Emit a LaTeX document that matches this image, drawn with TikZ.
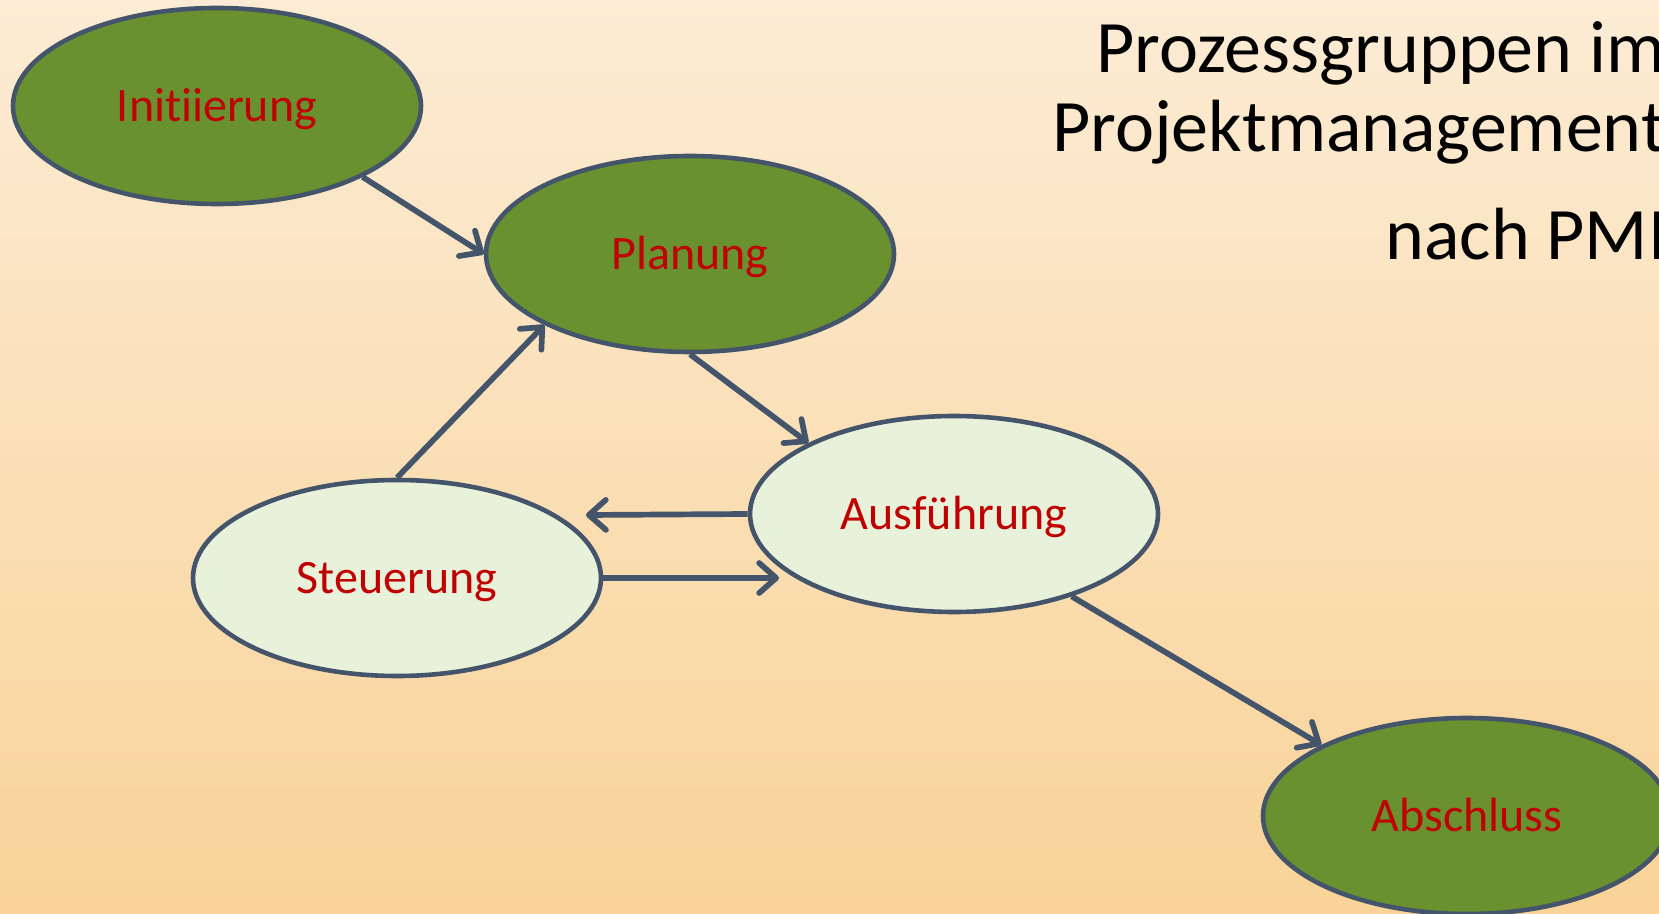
\documentclass[tikz,border=0pt]{standalone}
\usepackage{fontspec}
\setmainfont{Carlito}[Ligatures=NoCommon]
\usetikzlibrary{shapes.geometric,arrows.meta}
\definecolor{bgtop}{RGB}{252,236,213}
\definecolor{bgbot}{RGB}{249,211,152}
\definecolor{ellgreen}{RGB}{106,145,48}
\definecolor{elllight}{RGB}{232,242,219}
\definecolor{edge}{RGB}{68,84,106}
\definecolor{labred}{RGB}{192,0,0}
\newcommand{\lbl}[1]{\raisebox{-7.8pt}[0pt][0pt]{#1}}
\tikzset{
  procell/.style={ellipse, draw=edge, line width=2.3pt, minimum width=204pt, minimum height=98pt, inner sep=0pt, text=labred, font=\fontsize{24}{28}\selectfont},
  greenell/.style={procell, fill=ellgreen},
  lightell/.style={procell, fill=elllight},
  flow/.style={draw=edge, line width=2.85pt, -{Straight Barb[length=8.5pt,width=15pt,round]}},
  titletext/.style={anchor=base west, inner sep=0pt, font=\fontsize{37}{42}\selectfont, text=black}
}
\begin{document}
\begin{tikzpicture}[x=0.5pt,y=-0.5pt]
\fill[top color=bgtop,bottom color=bgbot] (0,0) rectangle (1659,914);
\useasboundingbox (0,0) rectangle (1659,914);
\clip (0,0) rectangle (1659,914);

\node[titletext] (t1) at (1096,73) {Prozessgruppen im};
\node[titletext] (t2) at (1052,152) {Projektmanagement};
\node[titletext] (t3) at (1385,260) {nach PMI};

\node[greenell] (init) at (217,106) {\lbl{Initiierung}};
\node[greenell] (plan) at (690,254) {\lbl{Planung}};
\node[lightell] (ausf) at (954,514) {\lbl{Ausführung}};
\node[lightell] (steu) at (397,578) {\lbl{Steuerung}};
\node[greenell] (absch) at (1467,816) {\lbl{Abschluss}};

\coordinate (c1) at (586,515);
\coordinate (c2) at (779,578);

\draw[flow] (init.-26) -- (plan.west);
\draw[flow] (steu.north) -- (plan.206);
\draw[flow] (plan.south) -- (ausf.154);
\draw[flow] (ausf.west) -- (c1);
\draw[flow] (steu.east) -- (c2);
\draw[flow] (ausf.-35.5) -- (absch.154);
\end{tikzpicture}
\end{document}
